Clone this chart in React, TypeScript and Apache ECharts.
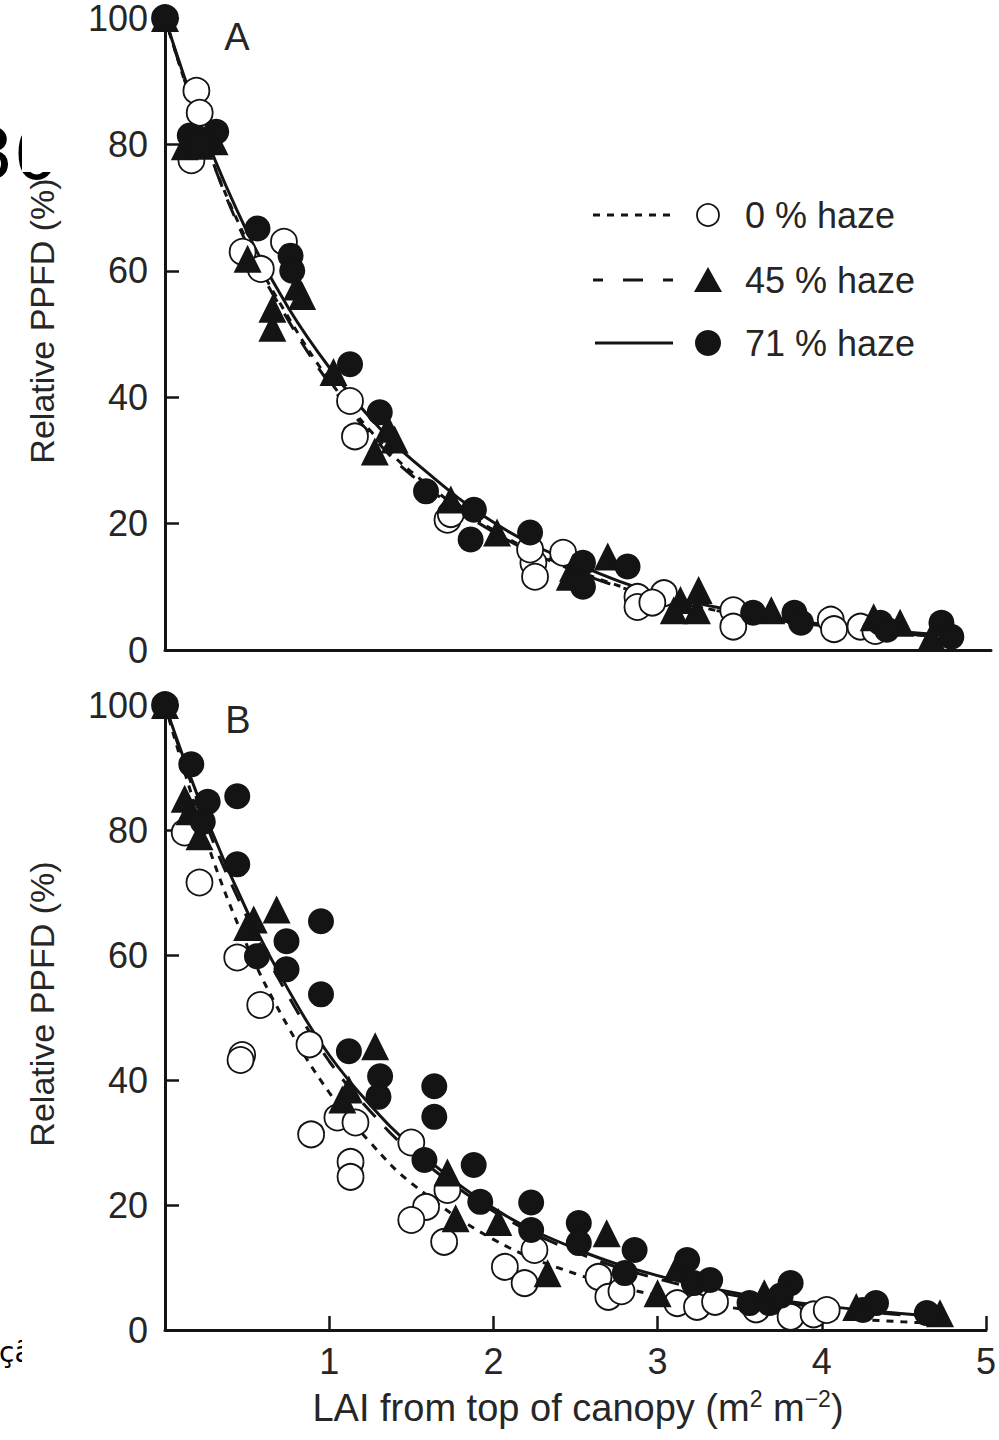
import React, { useEffect, useRef } from "react";
import * as echarts from "echarts";

// ---- Data ----
const xTicks = [0, 1, 2, 3, 4, 5];
const yTicks = [0, 20, 40, 60, 80, 100];
const legendLabels = ["0 % haze", "45 % haze", "71 % haze"];
const panelLabels = ["A", "B"];

// fitted curves, sampled along LAI
const curveX = [0, 0.25, 0.5, 0.75, 1, 1.25, 1.5, 2, 2.5, 3, 3.5, 4, 4.5, 4.75];
const curveA0 = [100, 80, 64.5, 52.5, 42.5, 34.5, 28, 18.8, 12.5, 8.3, 5.5, 3.7, 2.5, 2.1];
const curveA45 = [100, 80, 64, 52, 42, 34, 27.5, 18.5, 12.3, 8.2, 5.5, 3.8, 2.5, 2.1];
const curveA71 = [100, 81, 66, 54, 44.5, 36.5, 30, 20, 13.5, 8.8, 6, 4, 2.8, 2.3];
const curveB0 = [100, 78.5, 61.5, 48.5, 38, 30, 23.5, 14.5, 9, 5.5, 3.4, 2.1, 1.3, 1.0];
const curveB45 = [100, 81, 66, 53.5, 43, 35, 28.5, 19, 12.5, 8.2, 5.4, 3.6, 2.4, 2.0];
const curveB71 = [100, 82, 67, 54.5, 44, 36, 29.5, 19.5, 13, 8.7, 5.8, 3.9, 2.6, 2.2];

// observations [LAI, relative PPFD]
const ptsA0 = [
  [0, 100], [0.19, 88.5], [0.21, 85], [0.16, 77.5], [0.47, 63], [0.72, 64.6], [0.58, 60.3],
  [1.12, 39.4], [1.15, 33.8], [1.71, 20.6], [1.73, 21.5], [2.23, 13.8], [2.24, 11.6], [2.21, 15.9],
  [2.41, 15.4], [2.86, 8.4], [2.86, 6.8], [3.02, 9], [2.95, 7.5], [3.44, 6.3], [3.44, 3.7],
  [4.03, 4.8], [4.05, 3.3], [4.21, 3.7], [4.3, 3],
];
const ptsA45 = [
  [0, 100], [0.12, 79.7], [0.21, 79.8], [0.3, 80.5], [0.5, 61.9], [0.65, 54], [0.65, 51],
  [0.8, 57.5], [0.83, 56], [1.02, 44], [1.27, 31.4], [1.39, 33.3], [1.35, 35], [1.73, 23.8],
  [2.01, 18.6], [2.45, 11.6], [2.47, 13], [2.68, 14.8], [3.12, 7.9], [3.23, 9.5], [3.22, 6.3],
  [3.08, 6.3], [3.67, 6.3], [4.29, 5.2], [4.45, 4.3], [4.64, 2.1],
];
const ptsA71 = [
  [0, 100], [0.15, 81.4], [0.31, 82], [0.2, 80.5], [0.56, 66.7], [0.76, 62.4], [0.77, 60],
  [1.12, 45.2], [1.3, 37.6], [1.58, 25.1], [1.87, 22.2], [1.85, 17.5], [2.21, 18.6], [2.53, 13.8],
  [2.53, 10], [2.8, 13.2], [3.56, 5.9], [3.81, 5.9], [3.85, 4.3], [4.33, 4.3], [4.37, 3.2],
  [4.7, 4.3], [4.76, 2.1],
];
const ptsB0 = [
  [0, 100], [0.12, 79.6], [0.21, 71.6], [0.44, 59.6], [0.58, 52], [0.47, 44], [0.46, 43.2],
  [0.88, 45.7], [0.89, 31.3], [1.05, 34], [1.16, 33.2], [1.13, 26.9], [1.13, 24.5], [1.5, 30],
  [1.59, 19.7], [1.5, 17.6], [1.72, 22.4], [1.7, 14.1], [2.07, 10.1], [2.19, 7.5], [2.25, 12.8],
  [2.64, 8.5], [2.7, 5.3], [2.78, 6.2], [3.12, 4.3], [3.24, 3.7], [3.35, 4.5], [3.6, 3.3],
  [3.81, 2.1], [3.95, 2.5], [4.03, 3.2],
];
const ptsB45 = [
  [0, 100], [0.12, 85], [0.21, 79], [0.15, 83], [0.54, 65.7], [0.68, 67.3], [0.5, 64.5],
  [1.28, 45.4], [1.08, 36.9], [1.12, 38.5], [1.72, 25.2], [1.77, 17.9], [2.03, 17.3],
  [2.33, 9.1], [2.69, 15.5], [3.0, 5.9], [3.12, 10.1], [3.65, 5.9], [4.21, 3.7], [4.72, 2.7],
];
const ptsB71 = [
  [0, 100], [0.16, 90.5], [0.44, 85.4], [0.26, 84.5], [0.23, 81.3], [0.44, 74.5], [0.95, 65.4],
  [0.74, 62.2], [0.56, 59.8], [0.74, 57.7], [0.95, 53.7], [1.12, 44.6], [1.31, 40.6], [1.3, 37.3],
  [1.64, 39], [1.64, 34.1], [1.58, 27.2], [1.88, 26.4], [1.92, 20.5], [2.23, 20.4], [2.23, 16],
  [2.52, 17.1], [2.52, 13.9], [2.86, 12.8], [2.8, 9.1], [3.18, 11.2], [3.22, 7.5], [3.32, 8],
  [3.56, 4.3], [3.68, 4.3], [3.81, 7.5], [3.75, 5.5], [4.25, 3.2], [4.33, 4.3], [4.64, 2.7],
];

const FONT = "'Liberation Sans', Arial, Helvetica, sans-serif";
const INK = "#141414";
const TXT = "#262626";

function zip(xs: number[], ys: number[]) {
  return xs.map((x, i) => [x, ys[i]]);
}

function buildOption() {
  const grids = [
    { left: 165, top: 18, width: 826, height: 632 },
    { left: 165, top: 705, width: 826, height: 625 },
  ];

  const xAxis = [0, 1].map((g) => ({
    type: "value",
    gridIndex: g,
    min: xTicks[0],
    max: xTicks[xTicks.length - 1],
    interval: 1,
    axisLine: { show: true, onZero: false, lineStyle: { color: INK, width: 3 } },
    axisTick: {
      show: g === 1,
      inside: true,
      length: 14,
      lineStyle: { color: INK, width: 2.5 },
      customValues: xTicks.slice(1),
    },
    axisLabel: {
      show: g === 1,
      fontSize: 36,
      lineHeight: 30,
      fontFamily: FONT,
      color: TXT,
      margin: 16,
      customValues: xTicks.slice(1),
    },
    splitLine: { show: false },
  }));

  const yAxis = [0, 1].map((g) => ({
    type: "value",
    gridIndex: g,
    min: yTicks[0],
    max: yTicks[yTicks.length - 1],
    interval: 20,
    axisLine: { show: true, onZero: false, lineStyle: { color: INK, width: 3 } },
    axisTick: { show: true, inside: true, length: 14, lineStyle: { color: INK, width: 2.5 } },
    axisLabel: { fontSize: 36, lineHeight: 28, fontFamily: FONT, color: TXT, margin: 17 },
    splitLine: { show: false },
  }));

  const curveSeries = (g: number, ys: number[], dash: any) => ({
    type: "line",
    xAxisIndex: g,
    yAxisIndex: g,
    data: zip(curveX, ys),
    smooth: 0.4,
    showSymbol: false,
    symbol: "none",
    z: 2,
    lineStyle: { color: INK, width: 3, type: dash, opacity: 1 },
  });

  const scatter = (g: number, pts: number[][], kind: string) => ({
    type: "scatter",
    xAxisIndex: g,
    yAxisIndex: g,
    data: pts,
    symbol: kind === "tri" ? "triangle" : "circle",
    symbolSize: kind === "tri" ? 28 : 26,
    z: kind === "open" ? 3 : kind === "tri" ? 4 : 5,
    itemStyle:
      kind === "open"
        ? { color: "#ffffff", borderColor: INK, borderWidth: 1.8, opacity: 1 }
        : { color: INK, borderWidth: 0, opacity: 1 },
  });

  const series = [
    curveSeries(0, curveA0, [7, 7]),
    curveSeries(0, curveA45, [18, 14]),
    curveSeries(0, curveA71, "solid"),
    curveSeries(1, curveB0, [7, 7]),
    curveSeries(1, curveB45, [18, 14]),
    curveSeries(1, curveB71, "solid"),
    scatter(0, ptsA0, "open"),
    scatter(0, ptsA45, "tri"),
    scatter(0, ptsA71, "filled"),
    scatter(1, ptsB0, "open"),
    scatter(1, ptsB45, "tri"),
    scatter(1, ptsB71, "filled"),
  ];

  const legendRows = [215, 280, 343];
  const legendGraphics: any[] = [];
  legendGraphics.push({
    type: "line",
    shape: { x1: 593, y1: legendRows[0], x2: 676, y2: legendRows[0] },
    style: { stroke: INK, lineWidth: 3, lineDash: [7, 7] },
  });
  legendGraphics.push({
    type: "line",
    shape: { x1: 593, y1: legendRows[1], x2: 676, y2: legendRows[1] },
    style: { stroke: INK, lineWidth: 3, lineDash: [10, 20, 20, 20] },
  });
  legendGraphics.push({
    type: "line",
    shape: { x1: 595, y1: legendRows[2], x2: 673, y2: legendRows[2] },
    style: { stroke: INK, lineWidth: 3 },
  });
  legendGraphics.push({
    type: "circle",
    shape: { cx: 708, cy: legendRows[0], r: 11 },
    style: { fill: "#fff", stroke: INK, lineWidth: 1.8 },
  });
  legendGraphics.push({
    type: "polygon",
    shape: {
      points: [
        [708, legendRows[1] - 13],
        [694, legendRows[1] + 12],
        [722, legendRows[1] + 12],
      ],
    },
    style: { fill: INK },
  });
  legendGraphics.push({
    type: "circle",
    shape: { cx: 708, cy: legendRows[2], r: 13 },
    style: { fill: INK },
  });
  legendLabels.forEach((t, i) => {
    legendGraphics.push({
      type: "text",
      x: 745,
      y: legendRows[i],
      style: {
        text: t,
        fontSize: 36,
        fontFamily: FONT,
        fill: TXT,
        align: "left",
        verticalAlign: "middle",
      },
    });
  });

  const graphic: any[] = [
    ...legendGraphics,
    {
      type: "text",
      x: 237,
      y: 37,
      style: { text: panelLabels[0], fontSize: 38, fontFamily: FONT, fill: TXT, align: "center", verticalAlign: "middle" },
    },
    {
      type: "text",
      x: 238,
      y: 720,
      style: { text: panelLabels[1], fontSize: 38, fontFamily: FONT, fill: TXT, align: "center", verticalAlign: "middle" },
    },
    {
      type: "text",
      x: 42,
      y: 321,
      rotation: Math.PI / 2,
      style: { text: "Relative PPFD (%)", fontSize: 34, fontFamily: FONT, fill: TXT, align: "center", verticalAlign: "middle" },
    },
    {
      type: "text",
      x: 42,
      y: 1004,
      rotation: Math.PI / 2,
      style: { text: "Relative PPFD (%)", fontSize: 34, fontFamily: FONT, fill: TXT, align: "center", verticalAlign: "middle" },
    },
    {
      type: "text",
      x: 578,
      y: 1408,
      style: {
        text: "{a|LAI from top of canopy (m}{s|2}{a| m}{s|\u22122}{a|)}",
        align: "center",
        verticalAlign: "middle",
        rich: {
          a: { fontSize: 38, fontFamily: FONT, fill: TXT, lineHeight: 42 },
          s: { fontSize: 23, fontFamily: FONT, fill: TXT, verticalAlign: "top", lineHeight: 22 },
        },
      },
    },
    // stray page fragments visible at the left edge of the reference
    {
      type: "text",
      x: -32,
      y: 154,
      style: { text: "30", fontSize: 72, fontFamily: "'DejaVu Sans', sans-serif", fill: "#000", align: "left", verticalAlign: "middle" },
    },
    {
      type: "rect",
      shape: { x: 22, y: 100, width: 40, height: 72 },
      style: { fill: "#fff" },
    },
    {
      type: "text",
      x: -1,
      y: 1352,
      style: { text: "çã", fontSize: 28, fontFamily: "'DejaVu Sans', sans-serif", fill: "#000", align: "left", verticalAlign: "middle" },
    },
    {
      type: "rect",
      shape: { x: 22, y: 1330, width: 40, height: 45 },
      style: { fill: "#fff" },
    },
  ];

  return {
    animation: false,
    backgroundColor: "#ffffff",
    grid: grids,
    xAxis,
    yAxis,
    series,
    graphic,
  };
}

export default function App() {
  const ref = useRef<HTMLDivElement>(null);
  useEffect(() => {
    if (!ref.current) return;
    const chart = echarts.init(ref.current, null, { renderer: "svg" });
    chart.setOption(buildOption() as any);
    return () => chart.dispose();
  }, []);
  return (
    <div
      ref={ref}
      style={{ position: "absolute", left: 0, top: 0, width: 999, height: 1440, background: "#fff" }}
    />
  );
}
